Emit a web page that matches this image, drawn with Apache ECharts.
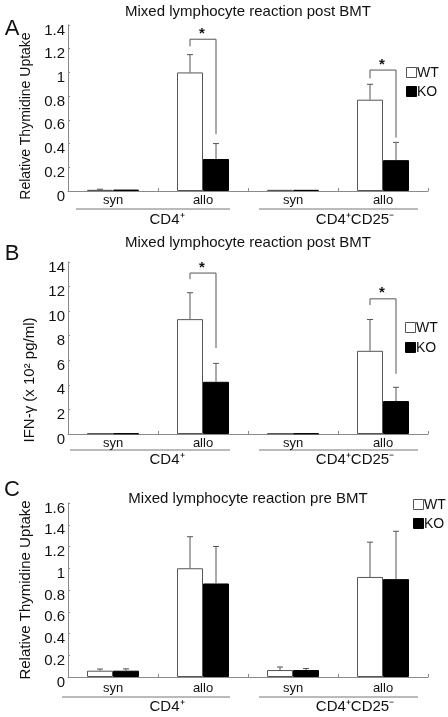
<!DOCTYPE html>
<html><head><meta charset="utf-8">
<script src="https://cdn.jsdelivr.net/npm/echarts@6/dist/echarts.min.js"></script>
<style>html,body{margin:0;padding:0;background:#fff}#c{width:448px;height:717px}</style>
</head><body><div id="c"></div>
<script>
const categories = ['syn', 'allo', 'syn', 'allo'];
const groupLabels = ['CD4\u207A', 'CD4\u207ACD25\u207B'];
const seriesNames = ['WT', 'KO'];
const titles = ['Mixed lymphocyte reaction post BMT', 'Mixed lymphocyte reaction post BMT', 'Mixed lymphocyte reaction pre BMT'];
const panelLetters = ['A', 'B', 'C'];
const yNames = ['Relative Thymidine Uptake', 'IFN-\u03B3 (x 10\u00B2 pg/ml)', 'Relative Thymidine Uptake'];
const yMax = [1.4, 14, 1.6];
const yStep = [0.2, 2, 0.2];

// Panel A
const aWT = [0.01, 1.0, 0.01, 0.77];
const aWTsd = [0.005, 0.15, 0.004, 0.13];
const aKO = [0.012, 0.27, 0.01, 0.26];
const aKOsd = [0.004, 0.13, 0.003, 0.15];
// Panel B
const bWT = [0.05, 9.35, 0.05, 6.77];
const bWTsd = [0, 2.15, 0, 2.55];
const bKO = [0.05, 4.25, 0.05, 2.68];
const bKOsd = [0, 1.5, 0, 1.12];
// Panel C
const cWT = [0.058, 1.0, 0.064, 0.92];
const cWTsd = [0.015, 0.29, 0.028, 0.32];
const cKO = [0.058, 0.86, 0.064, 0.90];
const cKOsd = [0.017, 0.34, 0.014, 0.44];
// significance brackets: [category, left leg bottom, top, right leg bottom]
const aBrackets = [[1, 1.22, 1.28, 0.48], [3, 0.95, 1.02, 0.45]];
const bBrackets = [[1, 12.6, 13.1, 7.0], [3, 10.5, 11.0, 4.9]];
const cBrackets = [];

const panels = [
  {wt: aWT, wtSd: aWTsd, ko: aKO, koSd: aKOsd, br: aBrackets},
  {wt: bWT, wtSd: bWTsd, ko: bKO, koSd: bKOsd, br: bBrackets},
  {wt: cWT, wtSd: cWTsd, ko: cKO, koSd: cKOsd, br: cBrackets}
];

const FONT = 'Liberation Sans, Arial, sans-serif';
const TXT = '#111';
const AX = '#8a8a8a';
const BAR_W = 26;
const gridTops = [25, 262, 503];
const gridHeights = [166, 172, 174];
const namePad = [[0, 16, 0, 0], [0, 64, 0, 0], [0, 0, 0, 0]];
const nameSize = [14, 15, 15];
const nameGaps = [21, 25, 23];
const labelMargin = [3, 3, 5];

const chart = echarts.init(document.getElementById('c'), null, {renderer: 'canvas'});

const grid = [], xAxis = [], yAxis = [], series = [];
panels.forEach((p, k) => {
  grid.push({left: 68, width: 360, top: gridTops[k], height: gridHeights[k]});
  xAxis.push({
    type: 'category', gridIndex: k, data: categories,
    axisLine: {lineStyle: {color: AX, width: 1}},
    axisTick: {show: true, inside: true, length: 3, lineStyle: {color: AX}},
    axisLabel: {color: TXT, fontFamily: FONT, fontSize: 13, margin: labelMargin[k]}
  });
  yAxis.push({
    type: 'value', gridIndex: k, min: 0, max: yMax[k], interval: yStep[k],
    name: yNames[k], nameLocation: 'middle', nameGap: nameGaps[k],
    nameTextStyle: {color: TXT, fontFamily: FONT, fontSize: nameSize[k], padding: namePad[k]},
    axisLine: {show: true, lineStyle: {color: AX, width: 1}},
    axisTick: {show: true, inside: true, length: 2, lineStyle: {color: AX}},
    splitLine: {show: false},
    axisLabel: {color: TXT, fontFamily: FONT, fontSize: 15, margin: 3, verticalAlign: 'top', lineHeight: 11}
  });
  series.push({
    name: 'WT', type: 'bar', xAxisIndex: k, yAxisIndex: k, data: p.wt,
    barWidth: BAR_W, barGap: '0%',
    itemStyle: {color: '#ffffff', borderColor: '#555', borderWidth: 1},
    emphasis: {disabled: true}, animation: false
  });
  series.push({
    name: 'KO', type: 'bar', xAxisIndex: k, yAxisIndex: k, data: p.ko,
    barWidth: BAR_W, barGap: '0%',
    itemStyle: {color: '#000000', borderColor: '#000', borderWidth: 1},
    emphasis: {disabled: true}, animation: false
  });
  const errData = [];
  categories.forEach((c, i) => {
    errData.push([i, -1, p.wt[i], p.wt[i] + p.wtSd[i]]);
    errData.push([i, 1, p.ko[i], p.ko[i] + p.koSd[i]]);
  });
  series.push({
    type: 'custom', xAxisIndex: k, yAxisIndex: k, data: errData, z: 5, silent: true, animation: false,
    renderItem: (params, api) => {
      const i = api.value(0), side = api.value(1);
      const lo = api.coord([i, api.value(2)]);
      const hi = api.coord([i, api.value(3)]);
      const x = lo[0] + side * BAR_W / 2;
      if (Math.abs(lo[1] - hi[1]) < 0.5) return null;
      return {type: 'group', children: [
        {type: 'line', shape: {x1: x, y1: lo[1], x2: x, y2: hi[1]}, style: {stroke: '#555', lineWidth: 1}},
        {type: 'line', shape: {x1: x - 3, y1: hi[1], x2: x + 3, y2: hi[1]}, style: {stroke: '#555', lineWidth: 1}}
      ]};
    }
  });
  if (p.br.length) {
    series.push({
      type: 'custom', xAxisIndex: k, yAxisIndex: k, data: p.br, z: 5, silent: true, animation: false,
      renderItem: (params, api) => {
        const i = api.value(0);
        const lb = api.coord([i, api.value(1)]);
        const top = api.coord([i, api.value(2)]);
        const rb = api.coord([i, api.value(3)]);
        const xl = top[0] - BAR_W / 2, xr = top[0] + BAR_W / 2;
        return {type: 'group', children: [
          {type: 'polyline', shape: {points: [[xl, lb[1]], [xl, top[1]], [xr, top[1]], [xr, rb[1]]]},
           style: {stroke: '#555', lineWidth: 1, fill: null}},
          {type: 'text', style: {text: '*', x: top[0] - 1, y: top[1] + 2, textAlign: 'center', textVerticalAlign: 'bottom',
            font: 'bold 15px ' + FONT, fill: TXT}}
        ]};
      }
    });
  }
});

const graphic = [];
const titleY = [12, 243, 499];
const letterY = [29, 254, 490];
const groupLineY = [209, 450, 697];
const groupLabelY = [220, 460, 707];
const groupLineX = [[[76, 230], [259, 418]], [[70, 230], [259, 418]], [[62, 230], [259, 418]]];
const groupLabelX = [167, 355];
const legendBox = [{x: 406, y: 67, gap: 19}, {x: 405, y: 322, gap: 20}, {x: 413, y: 499, gap: 19}];
const legendFill = ['#ffffff', '#000000'];
for (let k = 0; k < 3; k++) {
  graphic.push({type: 'text', x: 248, y: titleY[k], style: {text: titles[k], font: '15px ' + FONT, fill: TXT, textAlign: 'center', textVerticalAlign: 'middle'}});
  graphic.push({type: 'text', x: 12, y: letterY[k], style: {text: panelLetters[k], font: '22px ' + FONT, fill: TXT, textAlign: 'center', textVerticalAlign: 'middle'}});
  groupLineX[k].forEach((seg, j) => {
    graphic.push({type: 'line', shape: {x1: seg[0], y1: groupLineY[k], x2: seg[1], y2: groupLineY[k]}, style: {stroke: '#777', lineWidth: 1}});
    graphic.push({type: 'text', x: groupLabelX[j], y: groupLabelY[k], style: {text: groupLabels[j], font: '15px ' + FONT, fill: TXT, textAlign: 'center', textVerticalAlign: 'middle'}});
  });
  const lb = legendBox[k];
  seriesNames.forEach((n, j) => {
    const y = lb.y + j * lb.gap;
    graphic.push({type: 'rect', shape: {x: lb.x + 0.5, y: y + 0.5, width: 10, height: 10}, style: {fill: legendFill[j], stroke: j === 0 ? '#555' : '#000', lineWidth: 1}});
    graphic.push({type: 'text', x: lb.x + 11, y: y + 6, style: {text: n, font: '14px ' + FONT, fill: TXT, textAlign: 'left', textVerticalAlign: 'middle'}});
  });
}

chart.setOption({animation: false, grid, xAxis, yAxis, series, graphic});
</script></body></html>
